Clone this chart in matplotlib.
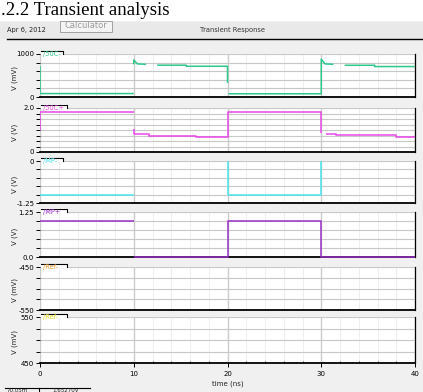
import numpy as np
import matplotlib
matplotlib.use('Agg')
import matplotlib.pyplot as plt
from matplotlib.patches import Rectangle
from matplotlib.lines import Line2D
from matplotlib.ticker import MultipleLocator

nan = np.nan
W, H = 423, 392

# ---------------- data ----------------
x_ticks = [0, 10, 20, 30, 40]
x_ticklabels = ['0', '10', '20', '30', '40']
trace_labels = ['/50C-', '/50C+', '/MP-', '/MP+', '/Ref-', '/Ref-']
y_labels = ['V (mV)', 'V (V)', 'V (V)', 'V (V)', 'V (mV)', 'V (mV)']
y_limits = [(0, 1000), (0, 2.0), (-1.25, 0), (0, 1.25), (-550, -450), (450, 550)]
y_top_labels = ['1000', '2.0', '0', '1.25', '-450', '550']
y_bot_labels = ['0', '0', '-1.25', '0.0', '-550', '450']
y_divisions = [5, 8, 5, 5, 4, 4]
colors = ['#2ec88a', '#e848e8', '#4ce4ec', '#9a30c8', '#e89a28', '#e8e020']

# /50C- (mV)
t_out_n = [0.0, 0.0, 10.0, nan, 10.0, 10.0, 10.4, 11.3, nan, 12.5, 15.6, 15.6, 20.0, 20.0, nan,
           20.1, 30.0, 30.0, 30.4, 31.3, nan, 32.5, 35.7, 35.7, 40.0]
v_out_n = [720, 80, 80, nan, 760, 860, 770, 760, nan, 740, 740, 715, 715, 330, nan,
           75, 75, 880, 770, 760, nan, 738, 738, 708, 708]
# /50C+ (V)
t_out_p = [0.0, 0.0, 10.0, nan, 10.0, 10.0, 10.4, 11.6, 11.6, 16.6, 16.6, 20.0, 20.0, 30.0, 30.0, nan,
           30.5, 31.6, 31.6, 38.0, 38.0, 40.0]
v_out_p = [1.0, 1.8, 1.8, nan, 1.05, 0.8, 0.8, 0.8, 0.75, 0.75, 0.70, 0.70, 1.8, 1.8, 0.85, nan,
           0.80, 0.80, 0.76, 0.76, 0.70, 0.70]
# /MP- (V)
t_mp_n = [0.0, 10.0, nan, 20.0, 20.0, 30.0, 30.0]
v_mp_n = [-1.0, -1.0, nan, 0.3, -1.0, -1.0, 0.3]
# /MP+ (V)
t_mp_p = [0.0, 10.0, nan, 10.0, 20.0, 20.0, 30.0, 30.0, 40.0]
v_mp_p = [1.0, 1.0, nan, 0.0, 0.0, 1.0, 1.0, 0.0, 0.0]

traces = [(t_out_n, v_out_n), (t_out_p, v_out_p), (t_mp_n, v_mp_n), (t_mp_p, v_mp_p), None, None]

# panel pixel extents (top, bottom)
panels = [(54, 97), (108, 152), (161, 203), (212, 257), (267, 310), (317, 363)]
tab_widths = [22, 26, 22, 26, 26, 26]
X0, X1 = 40, 415

FONT = 'DejaVu Sans'
plt.rcParams['font.family'] = [FONT]

fig = plt.figure(figsize=(W / 100, H / 100), dpi=100, facecolor='white')

def fx(px):
    return px / W

def fy(py):
    return 1 - py / H

# window background
fig.patches.append(Rectangle((0, 0), 1, fy(21), transform=fig.transFigure,
                             facecolor='#f0f0f0', edgecolor='none', zorder=-10))
fig.patches.append(Rectangle((0, fy(39)), 1, fy(22) - fy(39), transform=fig.transFigure,
                             facecolor='#e9e9e9', edgecolor='none', zorder=-9))
fig.lines.append(Line2D([fx(7), 1], [fy(39), fy(39)], transform=fig.transFigure,
                        color='black', lw=1.0))

# title
fig.text(fx(1), fy(15), '.2.2 Transient analysis', family='Liberation Serif',
         fontsize=13.5, va='baseline', ha='left', color='black')
# header
fig.text(fx(7), fy(30), 'Apr 6, 2012', fontsize=4.8, va='center', ha='left', color='#222222')
fig.patches.append(Rectangle((fx(60), fy(32)), fx(112) - fx(60), fy(21) - fy(32),
                             transform=fig.transFigure, facecolor='#f4f4f4',
                             edgecolor='#a0a0a0', lw=0.7, zorder=1))
fig.text(fx(86), fy(25), 'Calculator', fontsize=6, va='center', ha='center', color='#9a9a9a')
fig.text(fx(232), fy(30), 'Transient Response', fontsize=4.8, va='center', ha='center',
         color='#333333')

for i, (top, bot) in enumerate(panels):
    ax = fig.add_axes([fx(X0), fy(bot), fx(X1) - fx(X0), (bot - top) / H])
    ax.set_facecolor('white')
    lo, hi = y_limits[i]
    ax.set_xlim(x_ticks[0], x_ticks[-1])
    ax.set_ylim(lo, hi)
    yt = np.linspace(lo, hi, y_divisions[i] + 1)
    ax.set_yticks(yt)
    ax.set_yticklabels([y_bot_labels[i]] + [''] * (len(yt) - 2) + [y_top_labels[i]])
    ax.tick_params(axis='y', direction='out', length=3, width=0.7, pad=1.2,
                   labelsize=5, colors='black')
    ax.xaxis.set_minor_locator(MultipleLocator(2))
    ax.set_xticks(x_ticks)
    if i == len(panels) - 1:
        ax.set_xticklabels(x_ticklabels)
        ax.tick_params(axis='x', which='major', direction='out', length=3, width=0.7,
                       labelsize=5, pad=3)
        ax.tick_params(axis='x', which='minor', direction='in', length=1.5, width=0.5)
    else:
        ax.set_xticklabels([])
        ax.tick_params(axis='x', which='both', length=0)
    # grid
    ax.grid(True, which='minor', axis='x', color='#efefef', lw=0.7)
    ax.grid(True, which='major', axis='x', color='#cccccc', lw=1.0)
    ax.grid(True, which='major', axis='y', color='#c8c8c8', lw=0.8)
    ax.set_axisbelow(True)
    for s in ['left', 'top']:
        ax.spines[s].set_visible(False)
    ax.spines['bottom'].set_color('black')
    ax.spines['bottom'].set_linewidth(1.3)
    ax.spines['right'].set_color('black')
    ax.spines['right'].set_linewidth(0.9)
    if traces[i] is not None:
        tt, vv = traces[i]
        ax.plot(tt, vv, color=colors[i], lw=1.1, zorder=5,
                clip_on=(i != 3), solid_capstyle='butt')
    # y label
    fig.text(fx(15), fy((top + bot) / 2 + 2), y_labels[i], rotation=90, fontsize=5,
             ha='center', va='center', color='#222222')
    # legend tab
    tw = tab_widths[i]
    fig.patches.append(Rectangle((fx(41), fy(top + 1)), fx(tw), fy(top - 3.5) - fy(top + 1),
                                 transform=fig.transFigure, facecolor='white',
                                 edgecolor='none', zorder=2))
    fig.lines.append(Line2D([fx(41), fx(41 + tw), fx(41 + tw)],
                            [fy(top - 3.5), fy(top - 3.5), fy(top)],
                            transform=fig.transFigure, color='black', lw=0.8, zorder=3))
    fig.text(fx(43), fy(top), trace_labels[i], fontsize=4.8, color=colors[i],
             ha='left', va='center', zorder=4)

fig.text(fx(228), fy(384), 'time (ns)', fontsize=5, ha='center', va='center', color='#222222')

# bottom readout
fig.lines.append(Line2D([fx(5), fx(90)], [fy(387.5), fy(387.5)], transform=fig.transFigure,
                        color='black', lw=0.8))
fig.lines.append(Line2D([fx(39), fx(39)], [fy(387.5), fy(392)], transform=fig.transFigure,
                        color='black', lw=0.8))
fig.text(fx(7), fy(388), '70.05m', fontsize=4, ha='left', va='top', color='#222222')
fig.text(fx(52), fy(388), '1.65270V', fontsize=4, ha='left', va='top', color='#222222')

fig.savefig('out.png', dpi=100, facecolor=fig.get_facecolor())
